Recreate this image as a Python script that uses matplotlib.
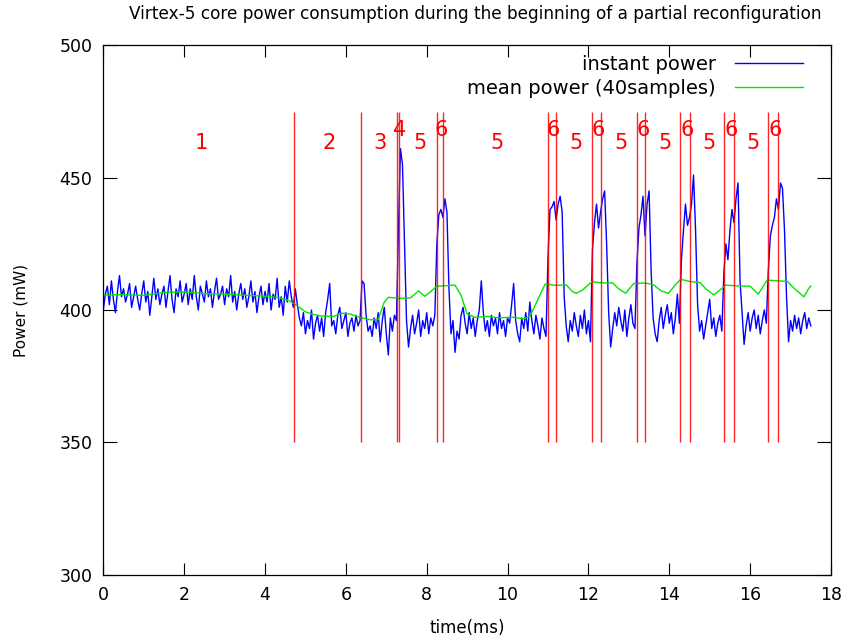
import numpy as np
import matplotlib
matplotlib.use("Agg")
import matplotlib.pyplot as plt

# sampling period of the power trace (ms)
dt = 0.05

# instant core power (mW), one value every 0.05 ms from t = 0
instant_power = [
    # 0.00 - 4.70 ms
    400, 406, 409, 402, 411, 404, 399, 407, 413, 405,
    408, 403, 406, 410, 401, 405, 409, 404, 400, 406,
    411, 403, 407, 398, 405, 412, 404, 408, 402, 406,
    409, 401, 407, 413, 404, 399, 408, 405, 411, 403,
    406, 410, 402, 408, 404, 413, 405, 400, 409, 406,
    403, 411, 405, 408, 401, 407, 412, 404, 406, 409,
    402, 408, 405, 413, 403, 407, 400, 406, 410, 404,
    408, 401, 405, 411, 403, 407, 399, 405, 409, 402,
    407, 403, 410, 400, 406, 404, 412, 401, 405, 398,
    409, 403, 411, 405, 401,
    # 4.75 - 6.35 ms
    408, 402, 397, 394, 399,
    391, 396, 393, 400, 389, 395, 398, 392, 397, 390,
    399, 404, 410, 394, 396, 391, 398, 401, 393, 396,
    399, 390, 395, 397, 392, 398, 394, 396,
    # 6.40 - 7.20 ms
    411, 410, 398,
    392, 394, 390, 397, 393, 399, 388, 396, 401, 391, 383, 397, 392, 398,
    # 7.25 - 8.20 ms
    396, 430, 461, 455, 425, 396, 386, 393,
    398, 391, 395, 400, 390, 396, 393, 399, 391, 397, 394, 398,
    # 8.25 - 8.90 ms
    425, 436, 438, 435, 442, 437, 408, 391, 396, 384, 392, 389, 398, 401,
    # 8.95 - 10.95 ms
    395, 391, 399, 393, 397, 390, 396, 400,
    411, 399, 392, 396, 390, 398, 394, 397,
    391, 399, 393, 396, 390, 397, 395, 402,
    410, 396, 391, 388, 397, 393, 399, 392,
    403, 396, 391, 398, 394, 389, 397, 393, 390,
    # 11.00 - 12.05 ms
    420, 438, 439, 441, 434, 440, 443, 437, 405, 394, 388, 396,
    392, 399, 394, 390, 398, 393, 400, 391, 396, 388,
    # 12.10 - 13.15 ms
    423, 433, 440, 431, 437, 442, 445, 425, 399, 386, 393,
    399, 394, 401, 396, 392, 400, 390, 397, 402, 395, 393,
    # 13.20 - 14.25 ms
    418, 431, 436, 443, 428, 440, 445, 415, 397, 391, 388,
    396, 401, 393, 398, 402, 395, 399, 391, 397, 406, 395,
    # 14.30 - 15.30 ms
    419, 430, 440, 432, 435, 440, 451, 430, 402, 392,
    396, 389, 394, 399, 404, 393, 397, 390, 395, 398, 392,
    # 15.35 - 16.40 ms
    414, 425, 419, 430, 438, 433, 442, 448, 411, 399, 387,
    394, 399, 392, 397, 400, 393, 398, 391, 396, 400, 395,
    # 16.45 - 17.50 ms
    415, 428, 432, 435, 442, 438, 448, 446, 430, 405, 388,
    396, 392, 398, 393, 397, 391, 396, 399, 393, 397, 394,
]

# mean power over 40 samples, read at irregular instants
mean_time = [0.0, 0.5, 1.0, 1.5, 2.0, 2.5, 3.0, 3.5, 4.0, 4.3, 4.6, 4.8,
             5.0, 5.2, 5.4, 5.7, 5.9, 6.1, 6.3, 6.6, 6.8, 6.95, 7.05, 7.3,
             7.6, 7.8, 7.95, 8.1, 8.25, 8.5, 8.7, 8.85, 9.0, 9.2, 9.5, 9.8,
             10.1, 10.4, 10.55, 10.75, 10.93, 11.2, 11.45, 11.6, 11.7, 11.85,
             12.09, 12.3, 12.6, 12.75, 12.92, 13.12, 13.4, 13.6, 13.8, 13.98,
             14.15, 14.28, 14.5, 14.77, 14.9, 15.1, 15.25, 15.39, 15.7, 16.0,
             16.2, 16.42, 16.7, 16.92, 17.1, 17.33, 17.45, 17.5]
mean_power = [405.7, 405.8, 405.5, 406.6, 406.8, 406.2, 406.0, 405.6, 405.2,
              404.8, 403.5, 401.5, 399.3, 398.3, 397.7, 397.6, 398.8, 398.5,
              397.4, 396.3, 396.4, 403.0, 404.8, 404.4, 404.6, 407.2, 405.2,
              407.0, 409.0, 409.2, 409.4, 405.5, 398.5, 397.2, 397.6, 397.0,
              397.3, 396.7, 397.5, 404.0, 409.8, 409.3, 409.5, 407.0, 406.3,
              407.5, 410.7, 410.3, 410.2, 408.0, 406.3, 410.0, 410.2, 409.6,
              407.2, 406.3, 409.5, 411.6, 410.8, 410.3, 408.0, 405.7, 407.5,
              409.4, 409.1, 409.0, 406.0, 411.3, 411.0, 410.8, 408.0, 405.0,
              408.2, 409.0]

# phase boundaries (ms)
boundaries = [4.71, 6.37, 7.26, 7.32, 8.25, 8.40, 10.99, 11.21, 12.09, 12.30,
              13.19, 13.41, 14.27, 14.51, 15.36, 15.60, 16.45, 16.70]

# phase labels
phase_names = ['1', '2', '3', '4', '5', '6', '5', '6', '5', '6', '5',
               '6', '5', '6', '5', '6', '5', '6']
phase_x = [2.42, 5.59, 6.85, 7.33, 7.84, 8.36, 9.75, 11.14, 11.70, 12.25,
           12.80, 13.36, 13.89, 14.44, 14.99, 15.53, 16.07, 16.63]
phase_y = [463, 463, 463, 468, 463, 468, 463, 468, 463, 468, 463,
           468, 463, 468, 463, 468, 463, 468]

time = np.arange(len(instant_power)) * dt

fig = plt.figure(figsize=(8.44, 6.40), dpi=100)
ax = fig.add_axes([0.1224, 0.1022, 0.8622, 0.8269])

ax.plot(time, instant_power, color='#0000ff', lw=1.0, label='instant power')
ax.plot(mean_time, mean_power, color='#00e600', lw=1.0,
        label='mean power (40samples)')
ax.vlines(boundaries, 350, 475, colors='#ff0000', lw=1.0, alpha=0.85)

for name, x, y in zip(phase_names, phase_x, phase_y):
    ax.text(x, y, name, color='#ff0000', fontsize=15, ha='center', va='center')

ax.set_xlim(0, 18)
ax.set_ylim(300, 500)
ax.set_xticks(np.arange(0, 19, 2))
ax.set_yticks([300, 350, 400, 450, 500])
ax.tick_params(axis='both', direction='in', top=True, right=True,
               labelsize=12.5, width=0.8, pad=8)
ax.tick_params(axis='x', length=8.5)
ax.tick_params(axis='y', length=10)
for sp in ax.spines.values():
    sp.set_linewidth(0.9)

ax.set_xlabel('time(ms)', fontsize=12, labelpad=11)
ax.set_ylabel('Power (mW)', fontsize=11, labelpad=22)
fig.text(0.563, 0.978, 'Virtex-5 core power consumption during the beginning '
         'of a partial reconfiguration', ha='center', va='center', fontsize=12.2)

ax.legend(loc='upper right', bbox_to_anchor=(803 / 844, 1 - 55 / 640),
          bbox_transform=fig.transFigure, frameon=False, markerfirst=False,
          fontsize=14, handlelength=3.5, handletextpad=1.0, borderpad=0,
          borderaxespad=0, labelspacing=0.25)

plt.savefig('out.png', dpi=100)
